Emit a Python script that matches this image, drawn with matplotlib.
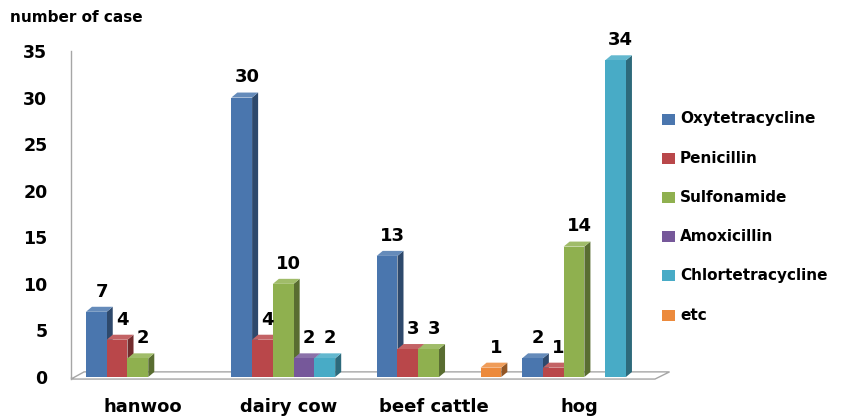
import numpy as np
import matplotlib.pyplot as plt
from matplotlib.patches import Polygon, Rectangle
from matplotlib import colors as mcolors

# Data
groups = ['hanwoo', 'dairy cow', 'beef cattle', 'hog']
drugs = ['Oxytetracycline', 'Penicillin', 'Sulfonamide', 'Amoxicillin',
         'Chlortetracycline', 'etc']
oxytetracycline = [7, 30, 13, 2]
penicillin = [4, 4, 3, 1]
sulfonamide = [2, 10, 3, 14]
amoxicillin = [0, 2, 0, 0]
chlortetracycline = [0, 2, 0, 34]
etc = [0, 0, 1, 0]
series = [oxytetracycline, penicillin, sulfonamide, amoxicillin, chlortetracycline, etc]

bar_colors = ['#4A76AE', '#B9474A', '#8FB04F', '#76589A', '#48ABC6', '#EC8A3C']

fig = plt.figure(figsize=(8.45, 4.17), dpi=100)
ax = fig.add_axes([71 / 845, 40 / 417, 584 / 845, 326 / 417])

xmin, xmax = -0.72, 27.4
ax.set_xlim(xmin, xmax)
ax.set_ylim(0, 35)

# 3D depth offsets in data units
dx, dy = 0.29, 0.54
gstep = 7

# floor
floor = Polygon([(xmin, -0.22), (xmax, -0.22), (xmax + 0.7, 0.55), (xmin + 0.63, 0.55)],
                closed=True, facecolor='white', edgecolor='#A6A6A6', lw=1.0,
                clip_on=False, zorder=1)
ax.add_patch(floor)
ax.plot([xmin, xmin], [-0.22, 0], color='#A6A6A6', lw=1.0, clip_on=False, zorder=1)


def shade(c, f):
    r, g, b = mcolors.to_rgb(c)
    return (r * f, g * f, b * f)


def tint(c, f):
    r, g, b = mcolors.to_rgb(c)
    return (r + (1 - r) * f, g + (1 - g) * f, b + (1 - b) * f)


for gi in range(len(groups)):
    for k, vals in enumerate(series):
        v = vals[gi]
        if v == 0:
            continue
        x = gi * gstep + k
        z = 2 + (gi * gstep + k) * 0.1
        c = bar_colors[k]
        side = Polygon([(x + 1, 0), (x + 1 + dx, dy), (x + 1 + dx, v + dy), (x + 1, v)],
                       closed=True, facecolor=shade(c, 0.62), edgecolor='none', zorder=z)
        top = Polygon([(x, v), (x + dx, v + dy), (x + 1 + dx, v + dy), (x + 1, v)],
                      closed=True, facecolor=tint(c, 0.15), edgecolor='none', zorder=z)
        ax.add_patch(side)
        ax.add_patch(top)
        ax.bar(x, v, width=1, align='edge', color=c, zorder=z + 0.05)
        ax.annotate(str(v), (x + 0.5 + 0.25, v), xytext=(0, 14.5), textcoords='offset points',
                    ha='center', va='center', fontsize=13, fontweight='bold',
                    color='black', zorder=50)

# axes styling
for s in ['top', 'right', 'bottom']:
    ax.spines[s].set_visible(False)
ax.spines['left'].set_color('#A6A6A6')
ax.spines['left'].set_linewidth(1.0)

ax.set_yticks(np.arange(0, 36, 5))
ax.set_yticklabels([str(t) for t in range(0, 36, 5)], fontsize=12.5, fontweight='bold')
ax.set_xticks([gi * gstep + 3 - 0.25 for gi in range(len(groups))])
ax.set_xticklabels(groups, fontsize=13, fontweight='bold')
ax.tick_params(axis='y', length=0, pad=17)
ax.tick_params(axis='x', length=0, pad=15)

fig.text(10 / 845, 1 - 18 / 417, 'number of case', fontsize=11, fontweight='bold',
         ha='left', va='center')

# legend drawn by hand
for i, name in enumerate(drugs):
    yc = 1 - (119 + i * 39.2) / 417
    fig.patches.append(Rectangle((662 / 845, yc - 5.5 / 417), 13 / 845, 11 / 417,
                                 transform=fig.transFigure, facecolor=bar_colors[i],
                                 edgecolor='none'))
    fig.text(680 / 845, yc, name, fontsize=11, fontweight='bold', ha='left', va='center')

plt.savefig('out.png', dpi=100)
